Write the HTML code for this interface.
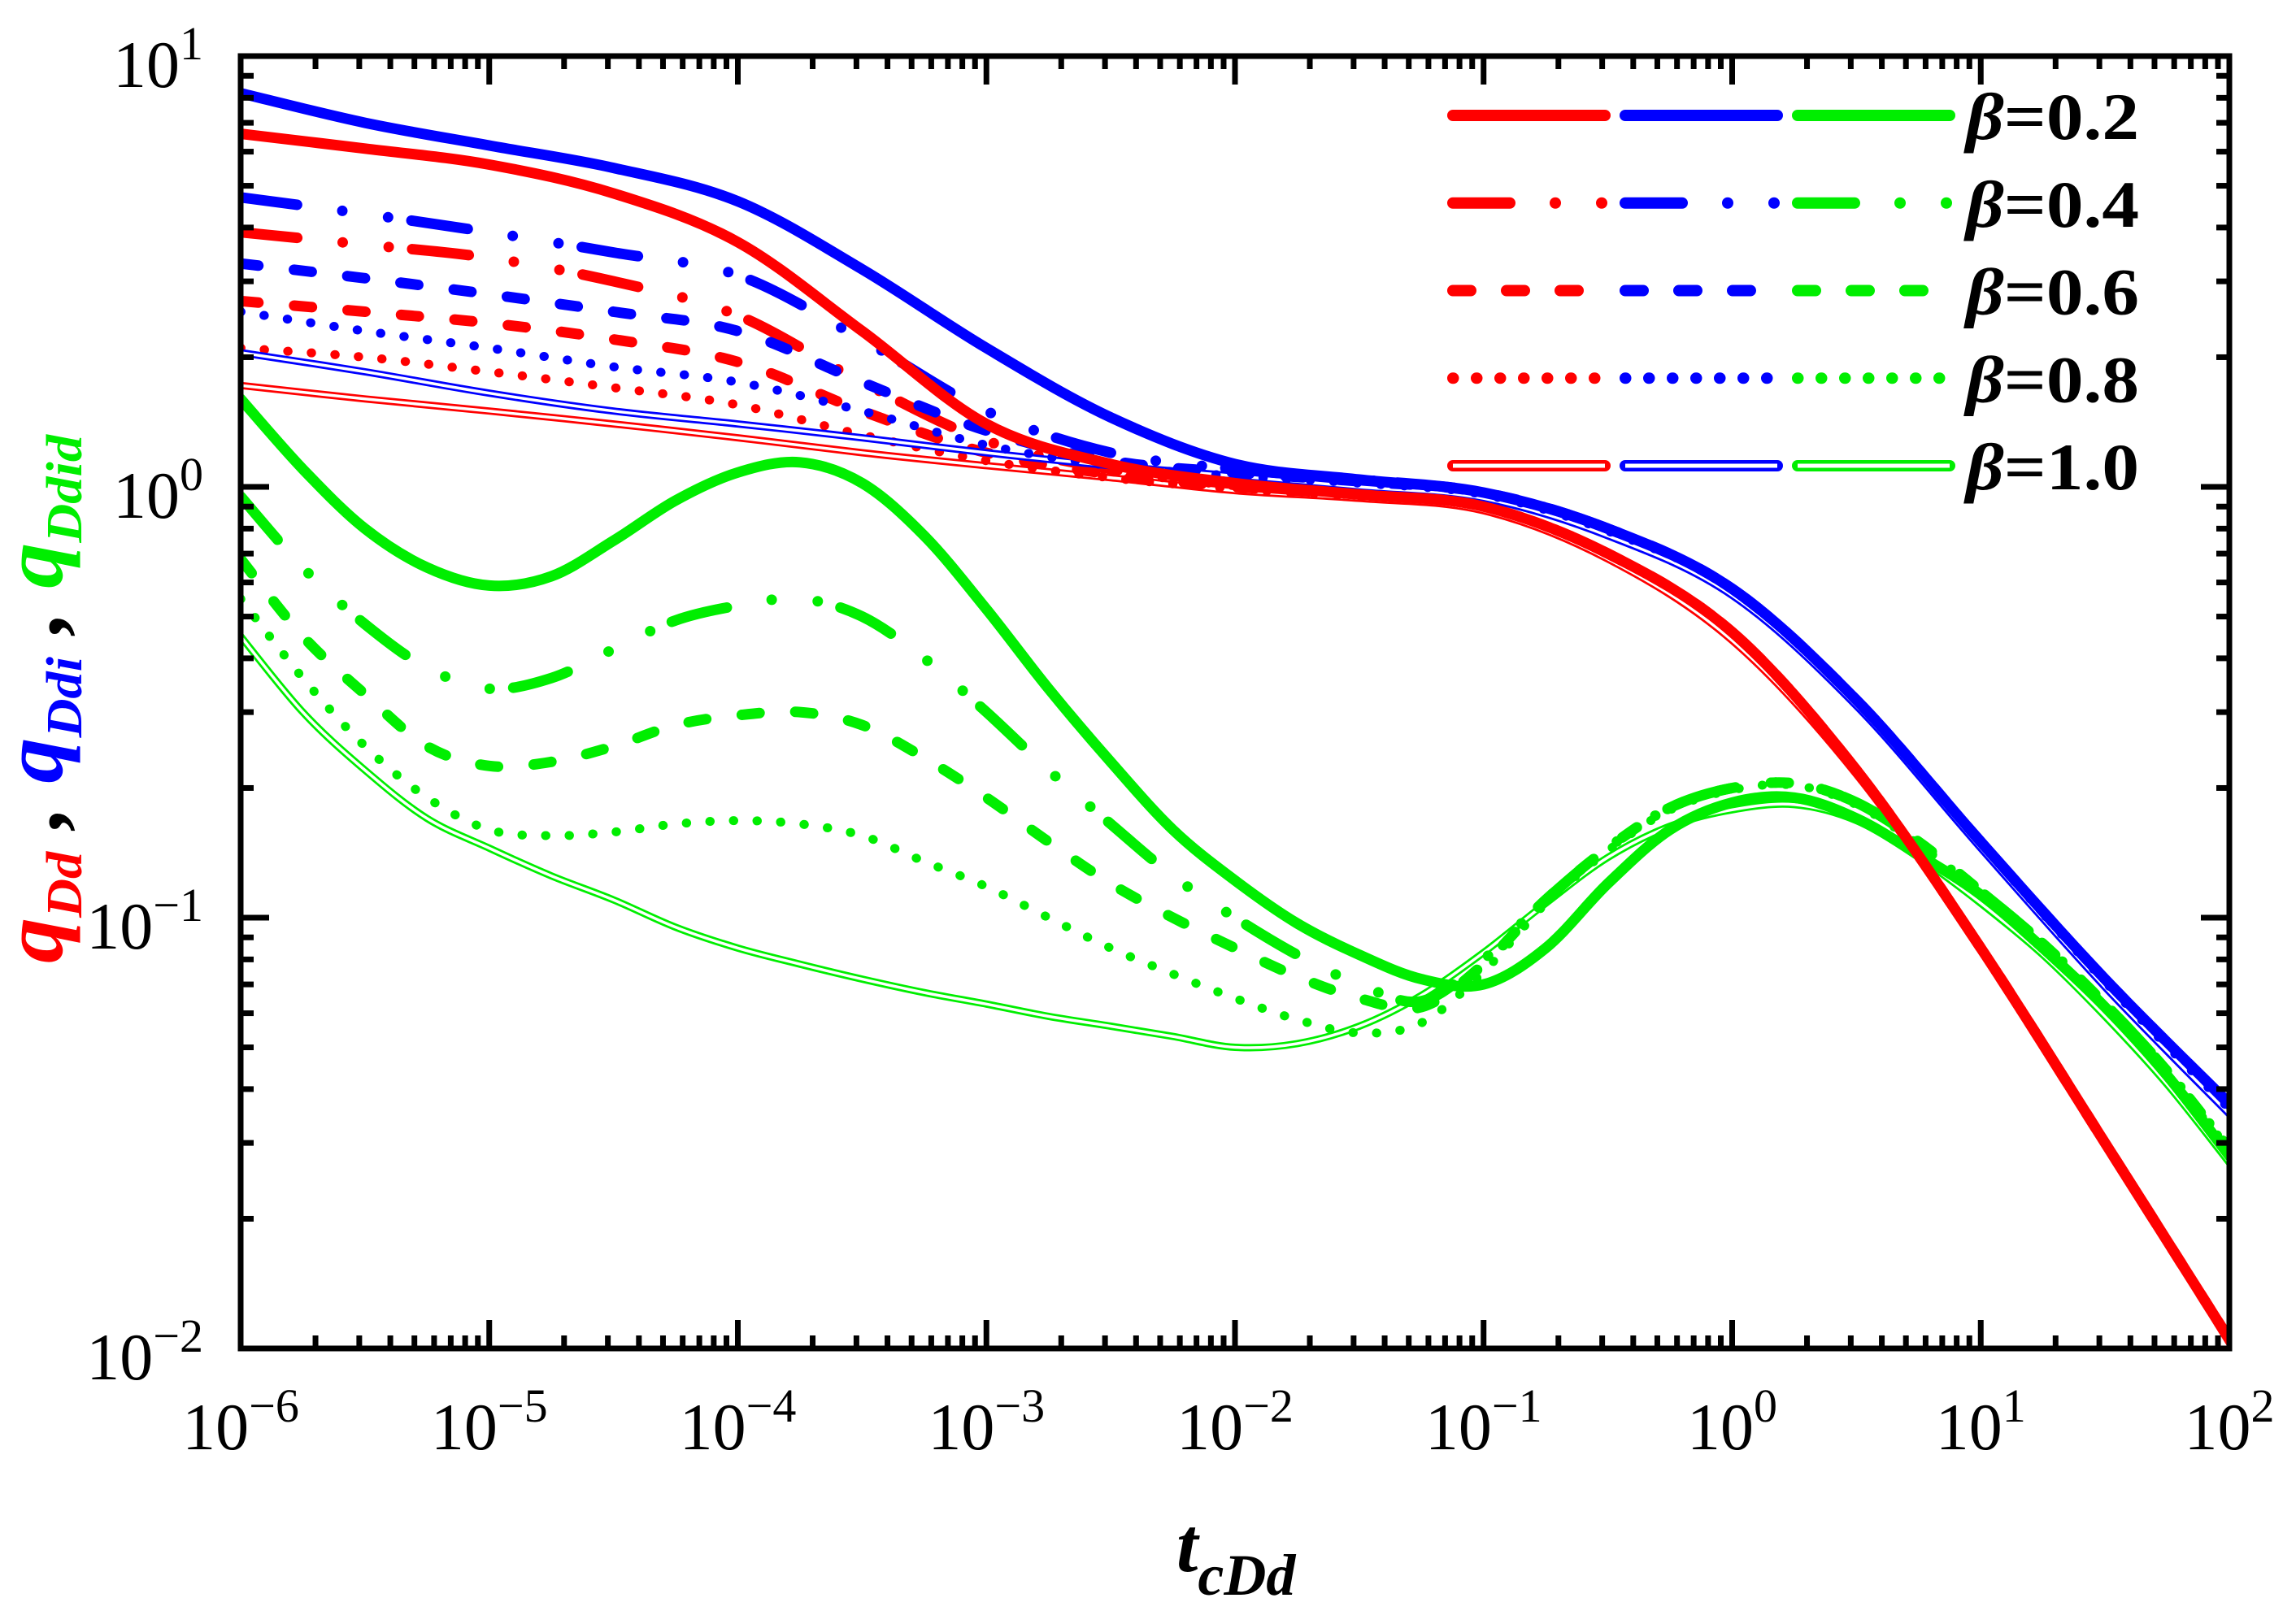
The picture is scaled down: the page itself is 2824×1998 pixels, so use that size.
<!DOCTYPE html>
<html><head><meta charset="utf-8"><style>
html,body{margin:0;padding:0;background:#fff}
svg{display:block}
</style></head><body>
<svg id="chart" width="2824" height="1998" viewBox="0 0 2824 1998" xmlns="http://www.w3.org/2000/svg" font-family="'Liberation Serif', serif">
<rect width="2824" height="1998" fill="#fff"/>
<g id="curves"></g>
<g id="axes"></g>
<g id="legend"></g>
<text transform="translate(76,860) rotate(-90)" text-anchor="middle" font-weight="bold" font-style="italic" font-size="105" textLength="650" lengthAdjust="spacingAndGlyphs"><tspan fill="#ff0000">q</tspan><tspan fill="#ff0000" font-size="62" dy="24">Dd</tspan><tspan fill="#000" dy="-24"> , </tspan><tspan fill="#0000ff">q</tspan><tspan fill="#0000ff" font-size="62" dy="24">Ddi</tspan><tspan fill="#000" dy="-24"> , </tspan><tspan fill="#00ee00">q</tspan><tspan fill="#00ee00" font-size="62" dy="24">Ddid</tspan></text>
<text x="1447" y="1933" font-weight="bold" font-style="italic" font-size="95" fill="#000">t<tspan font-size="72" dy="29">cDd</tspan></text>
</svg>
<script>
// ---- data ----
const tGrid = [-6,-5.5,-5,-4.5,-4,-3.5,-3,-2.5,-2,-1.5,-1,-0.5,0,0.5,1,1.5,2];
const tGridFine = [-6,-5.75,-5.5,-5.25,-5,-4.75,-4.5,-4.25,-4,-3.75,-3.5,-3.25,-3,-2.75,-2.5,-2.25,-2,-1.75,-1.5,-1.25,-1,-0.75,-0.5,-0.25,0,0.25,0.5,0.75,1,1.25,1.5,1.75,2];
const red02 = [6.6,6.1,5.6,4.8,3.7,2.3,1.4,1.13,1.02,0.96,0.9,0.7,0.46,0.22,0.085,0.03,0.0105];
const red04 = [3.9,3.65,3.4,3.0,2.5,1.75,1.28,1.1,1.01,0.96,0.9,0.7,0.46,0.22,0.085,0.03,0.0105];
const red06 = [2.7,2.55,2.4,2.2,1.95,1.5,1.2,1.07,1.0,0.96,0.9,0.7,0.46,0.22,0.085,0.03,0.0105];
const red08 = [2.1,2.0,1.85,1.7,1.55,1.32,1.15,1.05,0.99,0.95,0.9,0.7,0.46,0.22,0.085,0.03,0.0105];
const red10 = [1.72,1.6,1.5,1.4,1.3,1.2,1.12,1.05,0.98,0.94,0.88,0.68,0.44,0.215,0.084,0.03,0.0103];
const blue02 = [8.2,7.0,6.2,5.5,4.6,3.2,2.1,1.45,1.13,1.04,0.97,0.8,0.58,0.32,0.15,0.072,0.037];
const blue04 = [4.7,4.3,3.9,3.5,3.1,2.2,1.5,1.2,1.1,1.04,0.97,0.8,0.58,0.32,0.15,0.072,0.037];
const blue06 = [3.3,3.05,2.8,2.55,2.3,1.75,1.35,1.15,1.08,1.03,0.97,0.8,0.58,0.32,0.15,0.072,0.037];
const blue08 = [2.55,2.3,2.1,1.9,1.75,1.5,1.25,1.12,1.06,1.02,0.96,0.79,0.58,0.32,0.149,0.071,0.036];
const blue10 = [2.05,1.85,1.65,1.5,1.4,1.3,1.2,1.12,1.06,1.0,0.94,0.77,0.56,0.31,0.145,0.069,0.035];
const green02 = [1.6,1.1,0.8,0.65,0.59,0.62,0.75,0.93,1.08,1.14,1.02,0.77,0.52,0.34,0.23,0.16,0.122,0.097,0.082,0.072,0.07,0.085,0.12,0.16,0.185,0.19,0.17,0.14,0.113,0.085,0.062,0.043,0.028];
const green04 = [0.95,0.65,0.48,0.38,0.34,0.36,0.42,0.49,0.53,0.55,0.5,0.4,0.3,0.22,0.165,0.125,0.1,0.082,0.07,0.064,0.08,0.11,0.145,0.18,0.2,0.205,0.185,0.15,0.115,0.087,0.063,0.044,0.029];
const green06 = [0.68,0.45,0.33,0.25,0.225,0.23,0.25,0.28,0.295,0.3,0.28,0.235,0.19,0.15,0.12,0.1,0.085,0.073,0.065,0.062,0.078,0.11,0.145,0.18,0.2,0.205,0.185,0.15,0.115,0.087,0.063,0.044,0.029];
const green08 = [0.55,0.36,0.25,0.19,0.16,0.155,0.158,0.165,0.168,0.165,0.155,0.135,0.118,0.1,0.085,0.074,0.065,0.058,0.054,0.057,0.075,0.108,0.143,0.178,0.198,0.203,0.183,0.148,0.114,0.086,0.062,0.043,0.029];
const green10 = [0.45,0.3,0.22,0.17,0.145,0.125,0.11,0.095,0.085,0.078,0.072,0.067,0.063,0.059,0.056,0.053,0.05,0.051,0.056,0.066,0.083,0.108,0.138,0.163,0.178,0.183,0.168,0.138,0.108,0.082,0.059,0.041,0.027];
const legendValues = ["=0.2","=0.4","=0.6","=0.8","=1.0"];
const xTickExps = [-6,-5,-4,-3,-2,-1,0,1,2];
const yTickExps = [1,0,-1,-2];

// ---- scales ----
const X0=296, X1=2742, Y0=69, Y1=1659;
const xLog = l => X0 + (l + 6) / 8 * (X1 - X0);
const yVal = v => Y0 + (1 - Math.log10(v)) / 3 * (Y1 - Y0);
const NS = "http://www.w3.org/2000/svg";
function mk(tag, attrs, parent){ const e=document.createElementNS(NS,tag); for(const k in attrs) e.setAttribute(k,attrs[k]); parent.appendChild(e); return e; }

const styles = {
  s02:{w:13, dash:null},
  s04:{w:13, dash:"70 56 0 57 0 29"},
  s06:{w:13, dash:"22 44"},
  s08:{w:11, dash:"0.5 28.5"},
  s10:{w:9, dash:null, dbl:true}
};
function pathFrom(xs, ys){
  const p = xs.map((x,i)=>[xLog(x), yVal(ys[i])]);
  let d = "M"+p[0][0].toFixed(1)+","+p[0][1].toFixed(1);
  for(let i=0;i<p.length-1;i++){
    const p0=p[Math.max(i-1,0)], p1=p[i], p2=p[i+1], p3=p[Math.min(i+2,p.length-1)];
    const c1=[p1[0]+(p2[0]-p0[0])/6, p1[1]+(p2[1]-p0[1])/6];
    const c2=[p2[0]-(p3[0]-p1[0])/6, p2[1]-(p3[1]-p1[1])/6];
    d+=" C"+c1[0].toFixed(1)+","+c1[1].toFixed(1)+" "+c2[0].toFixed(1)+","+c2[1].toFixed(1)+" "+p2[0].toFixed(1)+","+p2[1].toFixed(1);
  }
  return d;
}
const curves = document.getElementById("curves");
const clip = mk("clipPath",{id:"plotclip"},mk("defs",{},curves));
mk("rect",{x:X0,y:Y0,width:X1-X0,height:Y1-Y0},clip);
const cg = mk("g",{"clip-path":"url(#plotclip)"},curves);
function drawCurve(xs, ys, color, st, name){
  const d = pathFrom(xs, ys);
  const el = mk("path",{d:d,fill:"none",stroke:color,"stroke-width":st.w,"stroke-linecap":"round","stroke-linejoin":"round"},cg);
  if(st.dash) el.setAttribute("stroke-dasharray", st.dash);
  
  
  if(st.dbl){
    const inner = mk("path",{d:d,fill:"none",stroke:"#fff","stroke-width":3.5},cg);
    
    
  }
}
const R="#ff0000", B="#0000ff", G="#00ee00";
drawCurve(tGrid, red10, R, styles.s10, "red-beta-1.0");
drawCurve(tGrid, red08, R, styles.s08, "red-beta-0.8");
drawCurve(tGrid, red06, R, styles.s06, "red-beta-0.6");
drawCurve(tGrid, red04, R, styles.s04, "red-beta-0.4");
drawCurve(tGrid, blue10, B, styles.s10, "blue-beta-1.0");
drawCurve(tGrid, blue08, B, styles.s08, "blue-beta-0.8");
drawCurve(tGrid, blue06, B, styles.s06, "blue-beta-0.6");
drawCurve(tGrid, blue04, B, styles.s04, "blue-beta-0.4");
drawCurve(tGrid, blue02, B, styles.s02, "blue-beta-0.2");
drawCurve(tGridFine, green10, G, styles.s10, "green-beta-1.0");
drawCurve(tGridFine, green08, G, styles.s08, "green-beta-0.8");
drawCurve(tGridFine, green06, G, styles.s06, "green-beta-0.6");
drawCurve(tGridFine, green04, G, styles.s04, "green-beta-0.4");
drawCurve(tGridFine, green02, G, styles.s02, "green-beta-0.2");
drawCurve(tGrid, red02, R, styles.s02, "red-beta-0.2");

// ---- axes ----
const ax = document.getElementById("axes");
const frame = mk("rect",{x:X0,y:Y0,width:X1-X0,height:Y1-Y0,fill:"none",stroke:"#000","stroke-width":7},ax);


const tk = mk("g",{stroke:"#000","stroke-width":7},ax);
for(let e=-6;e<2;e++){
  for(let m=1;m<10;m++){
    const x = xLog(e+Math.log10(m)); const L = m===1?35:16;
    if(m===1 && e===-6) continue;
    mk("line",{x1:x,y1:Y1,x2:x,y2:Y1-L},tk); mk("line",{x1:x,y1:Y0,x2:x,y2:Y0+L},tk);
  }
}
for(let e=-2;e<1;e++){
  for(let m=1;m<10;m++){
    const y = yVal(Math.pow(10,e)*m); const L = m===1?35:16;
    if(m===1 && e===-2) continue;
    mk("line",{x1:X0,y1:y,x2:X0+L,y2:y},tk); mk("line",{x1:X1,y1:y,x2:X1-L,y2:y},tk);
  }
}
function expLabel(e){ return e<0 ? "\u2212"+(-e) : ""+e; }
xTickExps.forEach(e=>{
  const t = mk("text",{x:xLog(e),y:1783,"text-anchor":"middle","font-size":82,fill:"#000"},ax);
  
  
  t.appendChild(document.createTextNode("10"));
  const s = mk("tspan",{"font-size":58,dy:-34},t); s.textContent = expLabel(e);
});
yTickExps.forEach(e=>{
  const t = mk("text",{x:250,y:yVal(Math.pow(10,e))+38,"text-anchor":"end","font-size":82,fill:"#000"},ax);
  
  
  t.appendChild(document.createTextNode("10"));
  const s = mk("tspan",{"font-size":58,dy:-34},t); s.textContent = expLabel(e);
});

// ---- legend ----
const lg = document.getElementById("legend");
const legStyles = [styles.s02, styles.s04, styles.s06, styles.s08, styles.s10];
const legCols = [R,B,G];
const segX = [[1787,1974],[1999,2186],[2211,2398]];
legendValues.forEach((lab,i)=>{
  const y = 142 + i*107.75;
  const st = legStyles[i];
  legCols.forEach((c,j)=>{
    const l = mk("line",{x1:segX[j][0],y1:y,x2:segX[j][1],y2:y,stroke:c,"stroke-width":14,"stroke-linecap":"round"},lg);
    if(st.dash) l.setAttribute("stroke-dasharray", st.dash);
    
    
    if(st.dbl){ const w=mk("line",{x1:segX[j][0],y1:y,x2:segX[j][1],y2:y,stroke:"#fff","stroke-width":5},lg);
      
       }
  });
  const t = mk("text",{x:2418,y:y+29,"font-size":82,"font-weight":"bold",fill:"#000",textLength:213,lengthAdjust:"spacingAndGlyphs"},lg);
  const b = mk("tspan",{"font-style":"italic"},t); b.textContent = "β";
  t.appendChild(document.createTextNode(lab));
  
  
});
</script>
</body></html>
